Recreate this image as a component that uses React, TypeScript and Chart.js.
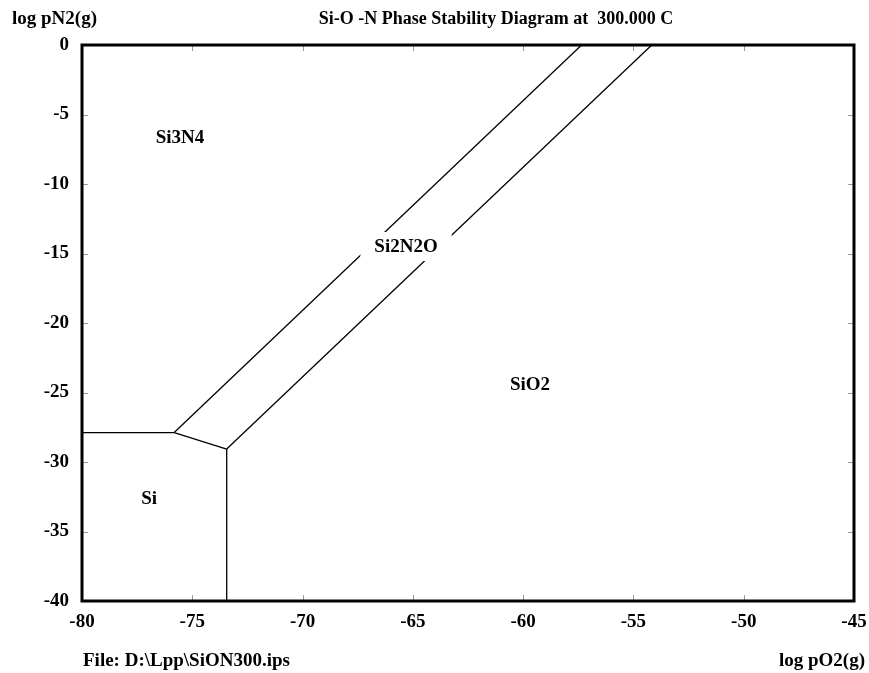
import React, { useEffect, useRef } from 'react';
import { Chart, registerables } from 'chart.js';

Chart.register(...registerables);

const FONT = '"Liberation Serif", "Times New Roman", serif';

// Axis ranges (log partial pressures)
const xMin = -80;
const xMax = -45;
const yMin = -40;
const yMax = 0;
const tickStep = 5;

// Phase boundaries: log pO2 (x) and log pN2 (y) end points
const siSi3n4X = [-80, -75.82];
const siSi3n4Y = [-27.88, -27.88];
const si3n4Si2n2oX = [-75.82, -57.35];
const si3n4Si2n2oY = [-27.88, 0];
const siSi2n2oX = [-75.82, -73.44];
const siSi2n2oY = [-27.88, -29.07];
const si2n2oSio2X = [-73.44, -54.17];
const si2n2oSio2Y = [-29.07, 0];
const siSio2X = [-73.44, -73.44];
const siSio2Y = [-29.07, -40];

// Stable phase labels placed in their fields
const regionNames = ['Si3N4', 'Si2N2O', 'SiO2', 'Si'];
const regionX = [-75.56, -65.31, -59.69, -76.96];
const regionY = [-6.66, -14.5, -24.37, -32.6];

const titleText = 'Si-O -N Phase Stability Diagram at  300.000 C';
const yAxisTitle = 'log pN2(g)';
const xAxisTitle = 'log pO2(g)';
const fileText = 'File: D:\\Lpp\\SiON300.ips';

const boundaries: [number[], number[]][] = [
  [siSi3n4X, siSi3n4Y],
  [si3n4Si2n2oX, si3n4Si2n2oY],
  [siSi2n2oX, siSi2n2oY],
  [si2n2oSio2X, si2n2oSio2Y],
  [siSio2X, siSio2Y],
];

const decorPlugin = {
  id: 'decor',
  afterDatasetsDraw(chart: any) {
    const { ctx, chartArea: a, scales } = chart;
    const x = scales.x;
    const y = scales.y;
    ctx.save();

    // small inward tick marks on all four sides
    ctx.strokeStyle = '#9a9a9a';
    ctx.lineWidth = 1;
    const tl = 6;
    x.ticks.forEach((t: any) => {
      if (t.value === xMin || t.value === xMax) return;
      const px = Math.round(x.getPixelForValue(t.value)) + 0.5;
      ctx.beginPath();
      ctx.moveTo(px, a.top);
      ctx.lineTo(px, a.top + tl);
      ctx.moveTo(px, a.bottom);
      ctx.lineTo(px, a.bottom - tl);
      ctx.stroke();
    });
    y.ticks.forEach((t: any) => {
      if (t.value === yMin || t.value === yMax) return;
      const py = Math.round(y.getPixelForValue(t.value)) + 0.5;
      ctx.beginPath();
      ctx.moveTo(a.left, py);
      ctx.lineTo(a.left + tl, py);
      ctx.moveTo(a.right, py);
      ctx.lineTo(a.right - tl, py);
      ctx.stroke();
    });

    // phase field labels on white boxes
    ctx.font = `bold 19px ${FONT}`;
    ctx.textAlign = 'center';
    ctx.textBaseline = 'middle';
    regionNames.forEach((name, i) => {
      const px = x.getPixelForValue(regionX[i]);
      const py = y.getPixelForValue(regionY[i]);
      const w = ctx.measureText(name).width + 28;
      const h = 29;
      ctx.fillStyle = '#fff';
      ctx.fillRect(px - w / 2, py - h / 2, w, h);
      ctx.fillStyle = '#000';
      ctx.fillText(name, px, py + 1);
    });

    // plot frame
    ctx.strokeStyle = '#000';
    ctx.lineWidth = 3;
    ctx.strokeRect(a.left, a.top, a.right - a.left, a.bottom - a.top);

    // titles and captions
    ctx.fillStyle = '#000';
    ctx.textBaseline = 'alphabetic';
    ctx.font = `bold 19px ${FONT}`;
    ctx.textAlign = 'left';
    ctx.fillText(yAxisTitle, 12, 23.5);
    ctx.fillText(fileText, 83, 666);
    ctx.textAlign = 'right';
    ctx.fillText(xAxisTitle, 865, 666);
    ctx.font = `bold 18px ${FONT}`;
    ctx.textAlign = 'center';
    ctx.fillText(titleText, 496, 23.5);

    ctx.restore();
  },
};

export default function App() {
  const ref = useRef<HTMLCanvasElement>(null);

  useEffect(() => {
    document.body.style.margin = '0';
    const canvas = ref.current;
    if (!canvas) return;
    const tickFont = { family: FONT, size: 19, weight: 'bold' as const };
    const chart = new Chart(canvas, {
      type: 'scatter',
      data: {
        datasets: boundaries.map(([xs, ys]) => ({
          data: xs.map((v, i) => ({ x: v, y: ys[i] })),
          showLine: true,
          borderColor: '#000',
          borderWidth: 1.3,
          pointRadius: 0,
          fill: false,
        })),
      },
      options: {
        responsive: false,
        animation: false,
        devicePixelRatio: 1,
        layout: { padding: { top: 45, right: 15, bottom: 0, left: 0 } },
        plugins: {
          legend: { display: false },
          tooltip: { enabled: false },
        },
        scales: {
          x: {
            type: 'linear',
            min: xMin,
            max: xMax,
            ticks: { stepSize: tickStep, color: '#000', font: tickFont, padding: 10, maxRotation: 0 },
            grid: { display: false, drawTicks: false },
            border: { display: false },
            afterFit: (s: any) => {
              s.height = 72;
              s.paddingLeft = 0;
              s.paddingRight = 0;
            },
          },
          y: {
            type: 'linear',
            min: yMin,
            max: yMax,
            ticks: { stepSize: tickStep, color: '#000', font: tickFont, padding: 13 },
            grid: { display: false, drawTicks: false },
            border: { display: false },
            afterFit: (s: any) => {
              s.width = 82;
              s.paddingTop = 0;
              s.paddingBottom = 0;
            },
          },
        },
      },
      plugins: [decorPlugin],
    });
    return () => chart.destroy();
  }, []);

  return (
    <div style={{ width: 869, height: 673 }}>
      <canvas ref={ref} width={869} height={673} style={{ display: 'block' }} />
    </div>
  );
}
